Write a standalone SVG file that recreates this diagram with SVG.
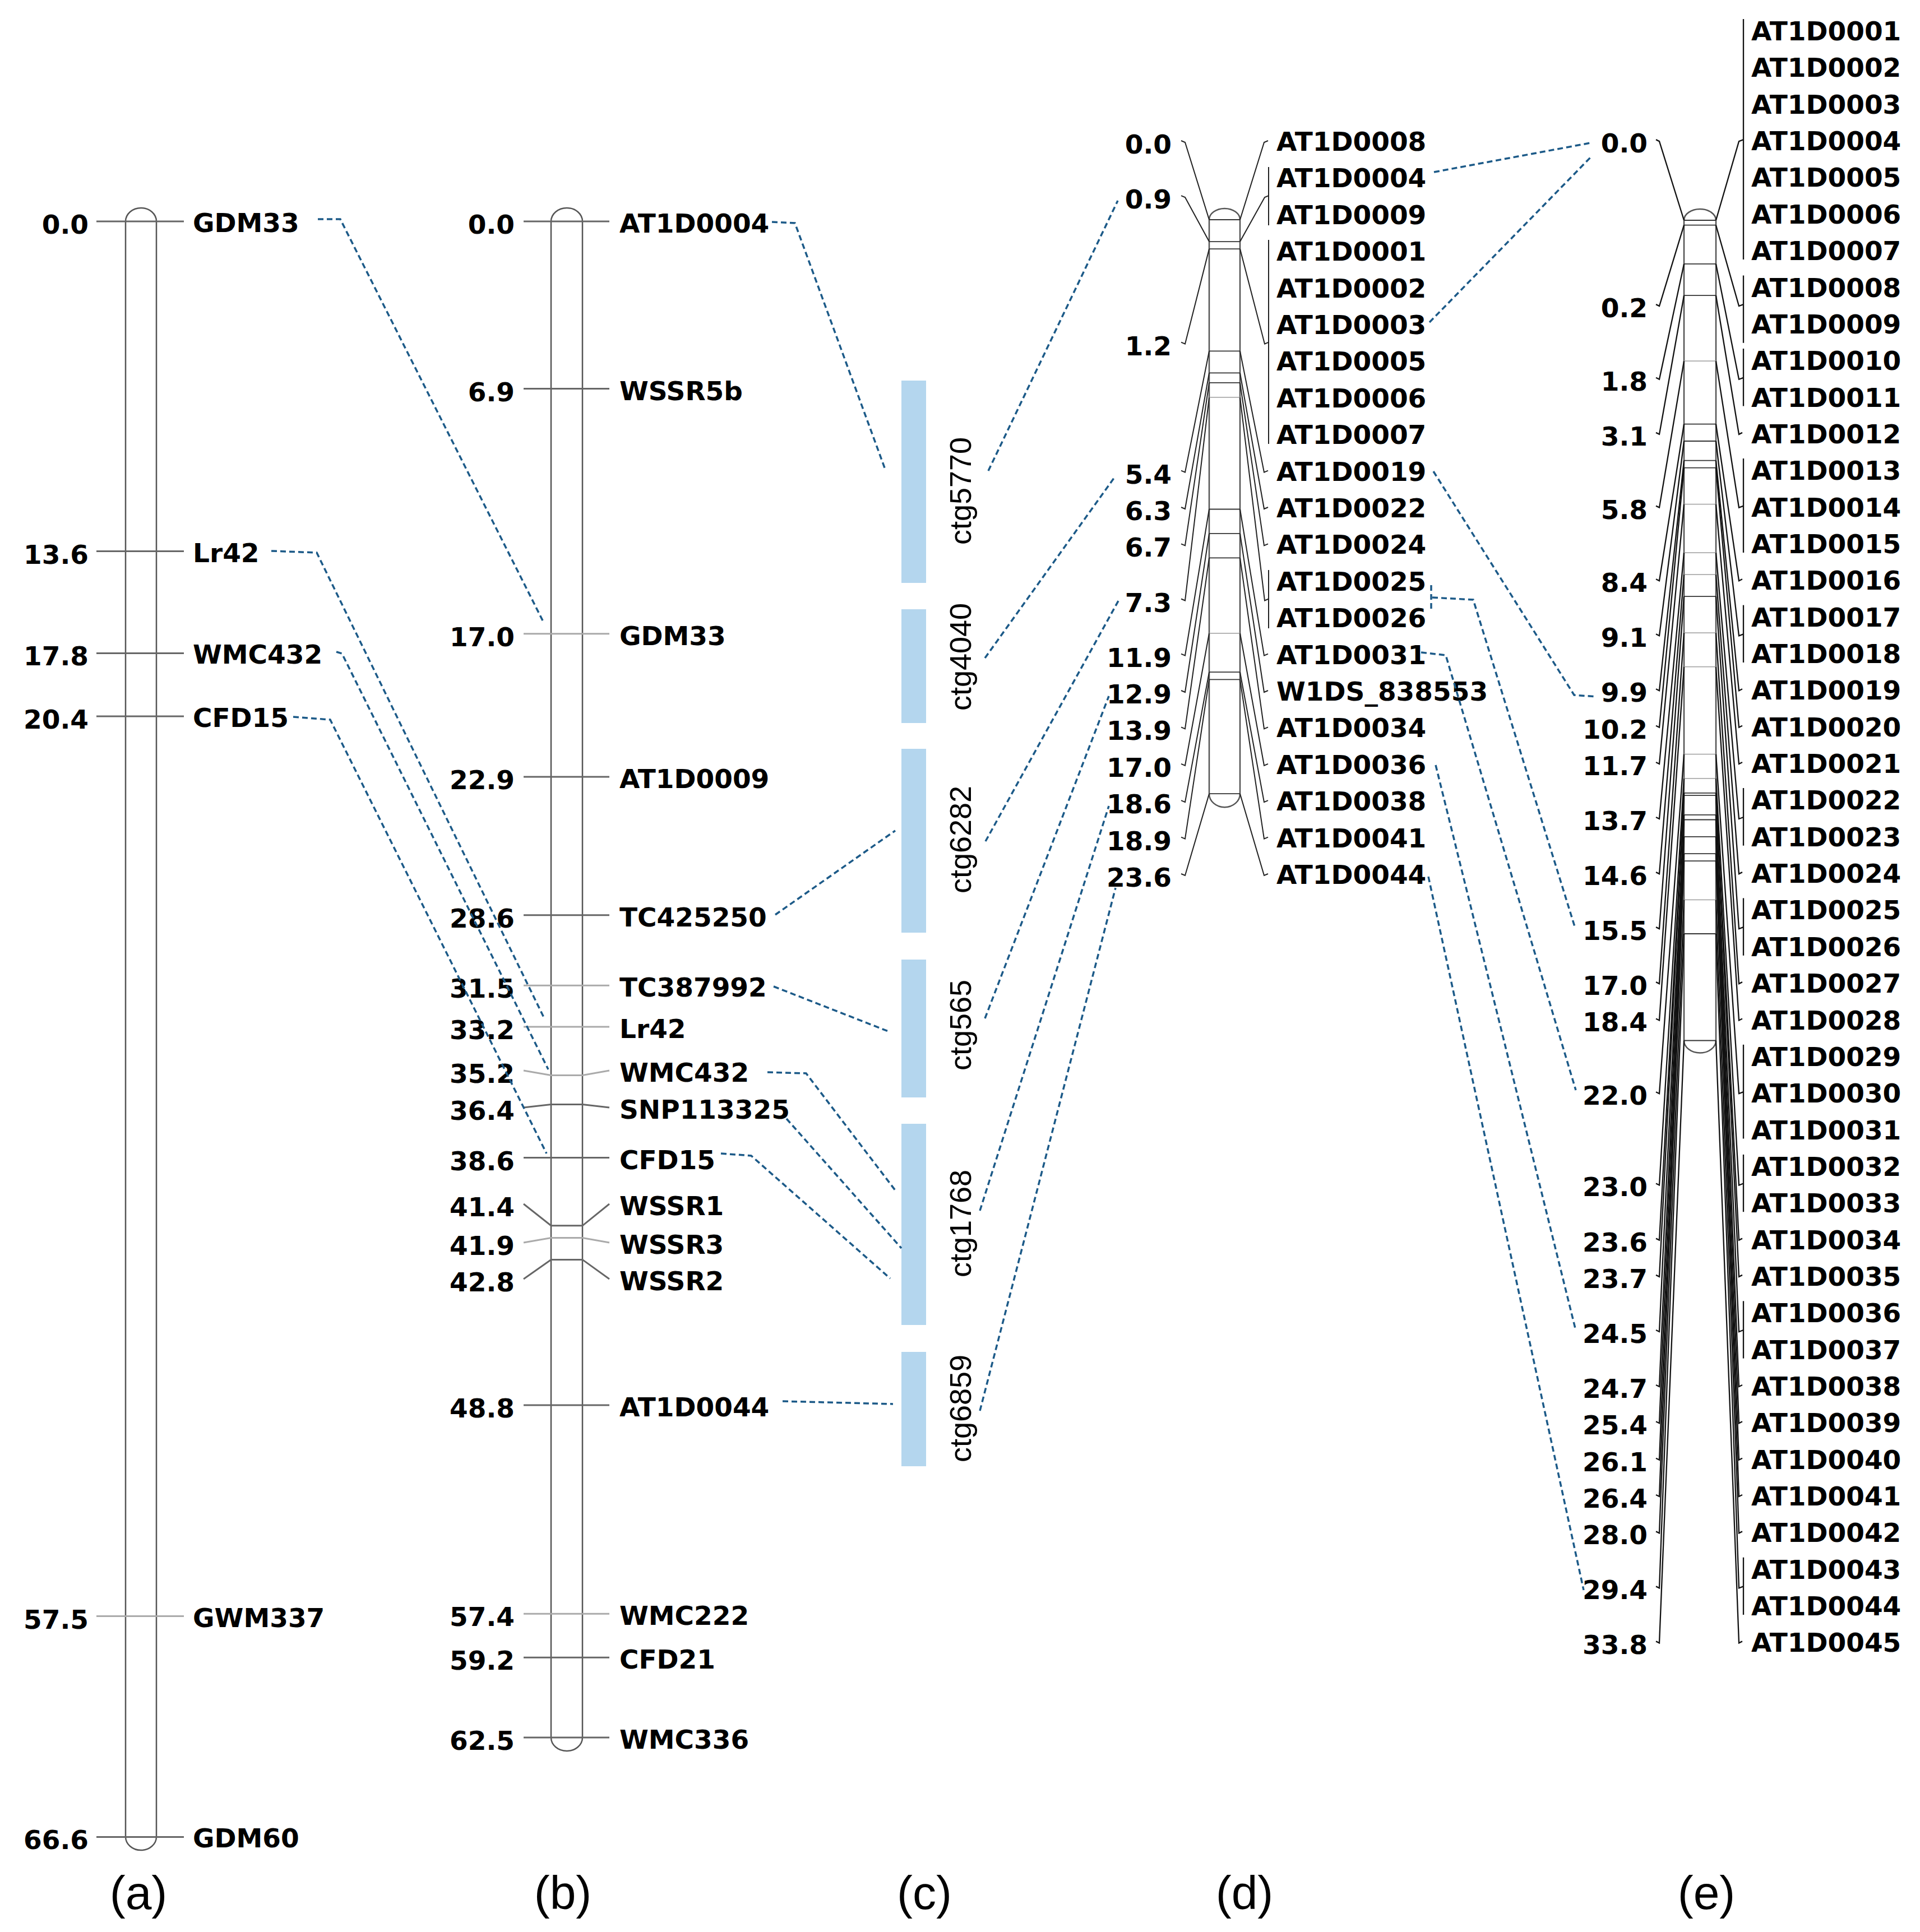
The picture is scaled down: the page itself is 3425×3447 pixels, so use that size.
<svg xmlns="http://www.w3.org/2000/svg" width="3425" height="3447" viewBox="0 0 3425 3447">
<style>
text { font-family: "DejaVu Sans", Verdana, sans-serif; font-weight: bold; font-size: 47px; fill: #000; }
.num { text-anchor: end; }
.lab { font-family: "Liberation Sans", Arial, sans-serif; font-weight: normal; font-size: 84px; text-anchor: middle; }
.ctg { font-family: "Liberation Sans", Arial, sans-serif; font-weight: normal; font-size: 54px; text-anchor: middle; }
.chr { fill: #fff; stroke: #555; stroke-width: 2.5; }
.tk { stroke: #666; stroke-width: 3; fill: none; }
.tl { stroke: #aaa; stroke-width: 3; fill: none; }
.ln { stroke: #222; stroke-width: 2; fill: none; }
.lne { stroke: #111; stroke-width: 2.3; fill: none; }
.bd { stroke: #333; stroke-width: 1.8; }
.bl { stroke: #aaa; stroke-width: 1.8; }
.cb { fill: #b4d6ee; }
.dash { stroke: #1c5a88; stroke-width: 3.5; fill: none; stroke-dasharray: 10 6; }
</style>
<rect width="3425" height="3447" fill="#fff"/>

<g id="chr-a">
<path class="chr" d="M224,395 A27.5,24 0 0 1 279,395 L279,3277 A27.5,24 0 0 1 224,3277 Z"/>
<line class="tk" x1="172" y1="395" x2="328" y2="395"/>
<line class="tk" x1="172" y1="983.6" x2="328" y2="983.6"/>
<line class="tk" x1="172" y1="1165.4" x2="328" y2="1165.4"/>
<line class="tk" x1="172" y1="1277.9" x2="328" y2="1277.9"/>
<line class="tl" x1="172" y1="2883.6" x2="328" y2="2883.6"/>
<line class="tk" x1="172" y1="3277.4" x2="328" y2="3277.4"/>
<text class="num" x="158" y="417">0.0</text><text x="344" y="414">GDM33</text>
<text class="num" x="158" y="1005.6">13.6</text><text x="344" y="1002.6">Lr42</text>
<text class="num" x="158" y="1187.4">17.8</text><text x="344" y="1184.4">WMC432</text>
<text class="num" x="158" y="1299.9">20.4</text><text x="344" y="1296.9">CFD15</text>
<text class="num" x="158" y="2905.6">57.5</text><text x="344" y="2902.6">GWM337</text>
<text class="num" x="158" y="3299.4">66.6</text><text x="344" y="3296.4">GDM60</text>
</g>

<g id="chr-b">
<path class="chr" d="M983,395 A28,24 0 0 1 1039,395 L1039,3100 A28,24 0 0 1 983,3100 Z"/>
<line class="tk" x1="934" y1="395" x2="1087" y2="395"/>
<line class="tk" x1="934" y1="693.6" x2="1087" y2="693.6"/>
<line class="tl" x1="934" y1="1130.8" x2="1087" y2="1130.8"/>
<line class="tk" x1="934" y1="1386.1" x2="1087" y2="1386.1"/>
<line class="tk" x1="934" y1="1632.8" x2="1087" y2="1632.8"/>
<line class="tl" x1="934" y1="1758.3" x2="1087" y2="1758.3"/>
<line class="tl" x1="934" y1="1831.9" x2="1087" y2="1831.9"/>
<polyline class="tl" points="934,1910 983,1918.5 1039,1918.5 1087,1910"/>
<polyline class="tk" points="934,1976 983,1970.4 1039,1970.4 1087,1976"/>
<line class="tk" x1="934" y1="2065.6" x2="1087" y2="2065.6"/>
<polyline class="tk" points="934,2148 983,2186.8 1039,2186.8 1087,2148"/>
<polyline class="tl" points="934,2217 983,2208.4 1039,2208.4 1087,2217"/>
<polyline class="tk" points="934,2282 983,2247.4 1039,2247.4 1087,2282"/>
<line class="tk" x1="934" y1="2507.1" x2="1087" y2="2507.1"/>
<line class="tl" x1="934" y1="2879.3" x2="1087" y2="2879.3"/>
<line class="tk" x1="934" y1="2957.2" x2="1087" y2="2957.2"/>
<line class="tk" x1="934" y1="3100" x2="1087" y2="3100"/>
<text class="num" x="918" y="417">0.0</text><text x="1105" y="415">AT1D0004</text>
<text class="num" x="918" y="715.6">6.9</text><text x="1105" y="713.6">WSSR5b</text>
<text class="num" x="918" y="1152.8">17.0</text><text x="1105" y="1150.8">GDM33</text>
<text class="num" x="918" y="1408.1">22.9</text><text x="1105" y="1406.1">AT1D0009</text>
<text class="num" x="918" y="1654.8">28.6</text><text x="1105" y="1652.8">TC425250</text>
<text class="num" x="918" y="1780.3">31.5</text><text x="1105" y="1778.3">TC387992</text>
<text class="num" x="918" y="1853.9">33.2</text><text x="1105" y="1851.9">Lr42</text>
<text class="num" x="918" y="1932">35.2</text><text x="1105" y="1930">WMC432</text>
<text class="num" x="918" y="1998">36.4</text><text x="1105" y="1996">SNP113325</text>
<text class="num" x="918" y="2087.6">38.6</text><text x="1105" y="2085.6">CFD15</text>
<text class="num" x="918" y="2170">41.4</text><text x="1105" y="2168">WSSR1</text>
<text class="num" x="918" y="2239">41.9</text><text x="1105" y="2237">WSSR3</text>
<text class="num" x="918" y="2304">42.8</text><text x="1105" y="2302">WSSR2</text>
<text class="num" x="918" y="2529">48.8</text><text x="1105" y="2527">AT1D0044</text>
<text class="num" x="918" y="2901">57.4</text><text x="1105" y="2899">WMC222</text>
<text class="num" x="918" y="2979">59.2</text><text x="1105" y="2977">CFD21</text>
<text class="num" x="918" y="3122">62.5</text><text x="1105" y="3120">WMC336</text>
</g>

<g id="ctg5770"><rect class="cb" x="1608" y="679" width="44" height="361"/><text class="ctg" transform="translate(1732,876) rotate(-90)">ctg5770</text></g>
<g id="ctg4040"><rect class="cb" x="1608" y="1087" width="44" height="203"/><text class="ctg" transform="translate(1732,1172) rotate(-90)">ctg4040</text></g>
<g id="ctg6282"><rect class="cb" x="1608" y="1336" width="44" height="328"/><text class="ctg" transform="translate(1732,1498) rotate(-90)">ctg6282</text></g>
<g id="ctg565"><rect class="cb" x="1608" y="1712" width="44" height="246"/><text class="ctg" transform="translate(1732,1829) rotate(-90)">ctg565</text></g>
<g id="ctg1768"><rect class="cb" x="1608" y="2005" width="44" height="359"/><text class="ctg" transform="translate(1732,2183) rotate(-90)">ctg1768</text></g>
<g id="ctg6859"><rect class="cb" x="1608" y="2412" width="44" height="204"/><text class="ctg" transform="translate(1732,2513) rotate(-90)">ctg6859</text></g>

<g id="chr-d">
<path class="chr" d="M2157,392 A27.5,20 0 0 1 2212,392 L2212,1416.2 A27.5,24 0 0 1 2157,1416.2 Z" stroke="#333" stroke-width="2"/>
<g class="bd">
<line x1="2157" y1="392" x2="2212" y2="392"/><line x1="2157" y1="431.1" x2="2212" y2="431.1"/><line x1="2157" y1="444.1" x2="2212" y2="444.1"/>
<line x1="2157" y1="626.4" x2="2212" y2="626.4"/><line x1="2157" y1="665.4" x2="2212" y2="665.4"/><line x1="2157" y1="682.8" x2="2212" y2="682.8"/>
<line class="bl" x1="2157" y1="708.8" x2="2212" y2="708.8"/><line x1="2157" y1="908.5" x2="2212" y2="908.5"/><line x1="2157" y1="951.9" x2="2212" y2="951.9"/>
<line x1="2157" y1="995.3" x2="2212" y2="995.3"/><line class="bl" x1="2157" y1="1129.8" x2="2212" y2="1129.8"/><line x1="2157" y1="1199.2" x2="2212" y2="1199.2"/>
<line x1="2157" y1="1212.3" x2="2212" y2="1212.3"/><line x1="2157" y1="1416.2" x2="2212" y2="1416.2"/>
</g>
<g class="ln">
<polyline points="2107,251 2114,254 2157,392"/>
<polyline points="2107,349.1 2114,352.1 2157,431.1"/>
<polyline points="2107,610.7 2114,613.7 2157,444.1"/>
<polyline points="2107,839.6 2114,842.6 2157,626.4"/>
<polyline points="2107,905 2114,908 2157,665.4"/>
<polyline points="2107,970.4 2114,973.4 2157,682.8"/>
<polyline points="2107,1068.5 2114,1071.5 2157,708.8"/>
<polyline points="2107,1166.6 2114,1169.6 2157,908.5"/>
<polyline points="2107,1232 2114,1235 2157,951.9"/>
<polyline points="2107,1297.4 2114,1300.4 2157,995.3"/>
<polyline points="2107,1362.8 2114,1365.8 2157,1129.8"/>
<polyline points="2107,1428.2 2114,1431.2 2157,1199.2"/>
<polyline points="2107,1493.6 2114,1496.6 2157,1212.3"/>
<polyline points="2107,1559 2114,1562 2157,1416.2"/>
<polyline points="2212,392 2255,254 2262,251"/>
<polyline points="2212,431.1 2256,352.1 2263,349.1"/>
<polyline points="2212,444.1 2256,613.7 2263,610.7"/>
<polyline points="2212,626.4 2255,842.6 2262,839.6"/>
<polyline points="2212,665.4 2255,908 2262,905"/>
<polyline points="2212,682.8 2255,973.4 2262,970.4"/>
<polyline points="2212,708.8 2256,1071.5 2263,1068.5"/>
<polyline points="2212,908.5 2255,1169.6 2262,1166.6"/>
<polyline points="2212,951.9 2255,1235 2262,1232"/>
<polyline points="2212,995.3 2255,1300.4 2262,1297.4"/>
<polyline points="2212,1129.8 2255,1365.8 2262,1362.8"/>
<polyline points="2212,1199.2 2255,1431.2 2262,1428.2"/>
<polyline points="2212,1212.3 2255,1496.6 2262,1493.6"/>
<polyline points="2212,1416.2 2255,1562 2262,1559"/>
<line x1="2263" y1="298" x2="2263" y2="402"/>
<line x1="2263" y1="428" x2="2263" y2="792"/>
<line x1="2263" y1="1017" x2="2263" y2="1121"/>
</g>
<text class="num" x="2090" y="274">0.0</text>
<text class="num" x="2090" y="372.1">0.9</text>
<text class="num" x="2090" y="633.7">1.2</text>
<text class="num" x="2090" y="862.6">5.4</text>
<text class="num" x="2090" y="928">6.3</text>
<text class="num" x="2090" y="993.4">6.7</text>
<text class="num" x="2090" y="1091.5">7.3</text>
<text class="num" x="2090" y="1189.6">11.9</text>
<text class="num" x="2090" y="1255">12.9</text>
<text class="num" x="2090" y="1320.4">13.9</text>
<text class="num" x="2090" y="1385.8">17.0</text>
<text class="num" x="2090" y="1451.2">18.6</text>
<text class="num" x="2090" y="1516.6">18.9</text>
<text class="num" x="2090" y="1582">23.6</text>
<text x="2277" y="269">AT1D0008</text>
<text x="2277" y="334.4">AT1D0004</text>
<text x="2277" y="399.8">AT1D0009</text>
<text x="2277" y="465.2">AT1D0001</text>
<text x="2277" y="530.6">AT1D0002</text>
<text x="2277" y="596">AT1D0003</text>
<text x="2277" y="661.4">AT1D0005</text>
<text x="2277" y="726.8">AT1D0006</text>
<text x="2277" y="792.2">AT1D0007</text>
<text x="2277" y="857.6">AT1D0019</text>
<text x="2277" y="923">AT1D0022</text>
<text x="2277" y="988.4">AT1D0024</text>
<text x="2277" y="1053.8">AT1D0025</text>
<text x="2277" y="1119.2">AT1D0026</text>
<text x="2277" y="1184.6">AT1D0031</text>
<text x="2277" y="1250">W1DS_838553</text>
<text x="2277" y="1315.4">AT1D0034</text>
<text x="2277" y="1380.8">AT1D0036</text>
<text x="2277" y="1446.2">AT1D0038</text>
<text x="2277" y="1511.6">AT1D0041</text>
<text x="2277" y="1577">AT1D0044</text>
</g>

<g id="chr-e">
<path class="chr" d="M3004,393 A28.5,20 0 0 1 3061,393 L3061,1856.5 A28.5,22 0 0 1 3004,1856.5 Z" stroke="#333" stroke-width="2"/>
<g class="bd">
<line x1="3004" y1="393" x2="3061" y2="393"/><line x1="3004" y1="401.7" x2="3061" y2="401.7"/><line x1="3004" y1="470.9" x2="3061" y2="470.9"/>
<line x1="3004" y1="527.2" x2="3061" y2="527.2"/><line class="bl" x1="3004" y1="644.1" x2="3061" y2="644.1"/><line x1="3004" y1="756.7" x2="3061" y2="756.7"/>
<line x1="3004" y1="787" x2="3061" y2="787"/><line x1="3004" y1="821.7" x2="3061" y2="821.7"/><line x1="3004" y1="834.7" x2="3061" y2="834.7"/>
<line class="bl" x1="3004" y1="899.6" x2="3061" y2="899.6"/><line class="bl" x1="3004" y1="986.2" x2="3061" y2="986.2"/><line class="bl" x1="3004" y1="1025.2" x2="3061" y2="1025.2"/>
<line x1="3004" y1="1064.2" x2="3061" y2="1064.2"/><line class="bl" x1="3004" y1="1129.1" x2="3061" y2="1129.1"/><line class="bl" x1="3004" y1="1189.7" x2="3061" y2="1189.7"/>
<line class="bl" x1="3004" y1="1345.6" x2="3061" y2="1345.6"/><line class="bl" x1="3004" y1="1388.9" x2="3061" y2="1388.9"/><line x1="3004" y1="1414.9" x2="3061" y2="1414.9"/>
<line x1="3004" y1="1419.2" x2="3061" y2="1419.2"/><line x1="3004" y1="1453.9" x2="3061" y2="1453.9"/><line x1="3004" y1="1462.5" x2="3061" y2="1462.5"/>
<line x1="3004" y1="1492.8" x2="3061" y2="1492.8"/><line x1="3004" y1="1523.1" x2="3061" y2="1523.1"/><line x1="3004" y1="1536.1" x2="3061" y2="1536.1"/>
<line class="bl" x1="3004" y1="1605.4" x2="3061" y2="1605.4"/><line x1="3004" y1="1666" x2="3061" y2="1666"/><line x1="3004" y1="1856.5" x2="3061" y2="1856.5"/>
</g>
<g class="lne">
<polyline points="2954,249.1 2960,252.1 3004,393"/>
<polyline points="2954,543.1 2960,546.1 3004,401.7"/>
<polyline points="2954,673.8 2960,676.8 3004,470.9"/>
<polyline points="2954,771.9 2960,774.9 3004,527.2"/>
<polyline points="2954,902.6 2960,905.6 3004,644.1"/>
<polyline points="2954,1033.3 2960,1036.3 3004,756.7"/>
<polyline points="2954,1131.3 2960,1134.3 3004,787"/>
<polyline points="2954,1229.3 2960,1232.3 3004,821.7"/>
<polyline points="2954,1294.7 2960,1297.7 3004,834.7"/>
<polyline points="2954,1360 2960,1363 3004,899.6"/>
<polyline points="2954,1458 2960,1461 3004,986.2"/>
<polyline points="2954,1556.1 2960,1559.1 3004,1025.2"/>
<polyline points="2954,1654.1 2960,1657.1 3004,1064.2"/>
<polyline points="2954,1752.1 2960,1755.1 3004,1129.1"/>
<polyline points="2954,1817.5 2960,1820.5 3004,1189.7"/>
<polyline points="2954,1948.2 2960,1951.2 3004,1345.6"/>
<polyline points="2954,2111.5 2960,2114.5 3004,1388.9"/>
<polyline points="2954,2209.6 2960,2212.6 3004,1414.9"/>
<polyline points="2954,2274.9 2960,2277.9 3004,1419.2"/>
<polyline points="2954,2373 2960,2376 3004,1453.9"/>
<polyline points="2954,2471 2960,2474 3004,1462.5"/>
<polyline points="2954,2536.3 2960,2539.3 3004,1492.8"/>
<polyline points="2954,2601.7 2960,2604.7 3004,1523.1"/>
<polyline points="2954,2667 2960,2670 3004,1536.1"/>
<polyline points="2954,2732.4 2960,2735.4 3004,1605.4"/>
<polyline points="2954,2830.4 2960,2833.4 3004,1666"/>
<polyline points="2954,2928.4 2960,2931.4 3004,1856.5"/>
<polyline points="3061,393 3102,252.1 3110,249.1"/>
<polyline points="3061,401.7 3102,546.1 3110,543.1"/>
<polyline points="3061,470.9 3102,676.8 3110,673.8"/>
<polyline points="3061,527.2 3102,774.9 3108,771.9"/>
<polyline points="3061,644.1 3102,905.6 3110,902.6"/>
<polyline points="3061,756.7 3102,1036.3 3108,1033.3"/>
<polyline points="3061,787 3102,1134.3 3110,1131.3"/>
<polyline points="3061,821.7 3102,1232.3 3108,1229.3"/>
<polyline points="3061,834.7 3102,1297.7 3108,1294.7"/>
<polyline points="3061,899.6 3102,1363 3108,1360"/>
<polyline points="3061,986.2 3102,1461 3110,1458"/>
<polyline points="3061,1025.2 3102,1559.1 3108,1556.1"/>
<polyline points="3061,1064.2 3102,1657.1 3110,1654.1"/>
<polyline points="3061,1129.1 3102,1755.1 3108,1752.1"/>
<polyline points="3061,1189.7 3102,1820.5 3108,1817.5"/>
<polyline points="3061,1345.6 3102,1951.2 3110,1948.2"/>
<polyline points="3061,1388.9 3102,2114.5 3110,2111.5"/>
<polyline points="3061,1414.9 3102,2212.6 3108,2209.6"/>
<polyline points="3061,1419.2 3102,2277.9 3108,2274.9"/>
<polyline points="3061,1453.9 3102,2376 3110,2373"/>
<polyline points="3061,1462.5 3102,2474 3108,2471"/>
<polyline points="3061,1492.8 3102,2539.3 3108,2536.3"/>
<polyline points="3061,1523.1 3102,2604.7 3108,2601.7"/>
<polyline points="3061,1536.1 3102,2670 3108,2667"/>
<polyline points="3061,1605.4 3102,2735.4 3108,2732.4"/>
<polyline points="3061,1666 3102,2833.4 3110,2830.4"/>
<polyline points="3061,1856.5 3102,2931.4 3108,2928.4"/>
<line x1="3110" y1="34" x2="3110" y2="463"/>
<line x1="3110" y1="491.5" x2="3110" y2="611.8"/>
<line x1="3110" y1="622" x2="3110" y2="724.5"/>
<line x1="3110" y1="818" x2="3110" y2="986"/>
<line x1="3110" y1="1079.6" x2="3110" y2="1182"/>
<line x1="3110" y1="1406" x2="3110" y2="1508.7"/>
<line x1="3110" y1="1602.4" x2="3110" y2="1704.8"/>
<line x1="3110" y1="1863.8" x2="3110" y2="2031.5"/>
<line x1="3110" y1="2059.9" x2="3110" y2="2162.2"/>
<line x1="3110" y1="2321.3" x2="3110" y2="2423.6"/>
<line x1="3110" y1="2778.7" x2="3110" y2="2881"/>
</g>
<text class="num" x="2939" y="272">0.0</text>
<text class="num" x="2939" y="566">0.2</text>
<text class="num" x="2939" y="697">1.8</text>
<text class="num" x="2939" y="795">3.1</text>
<text class="num" x="2939" y="926">5.8</text>
<text class="num" x="2939" y="1056">8.4</text>
<text class="num" x="2939" y="1154">9.1</text>
<text class="num" x="2939" y="1252">9.9</text>
<text class="num" x="2939" y="1318">10.2</text>
<text class="num" x="2939" y="1383">11.7</text>
<text class="num" x="2939" y="1481">13.7</text>
<text class="num" x="2939" y="1579">14.6</text>
<text class="num" x="2939" y="1677">15.5</text>
<text class="num" x="2939" y="1775">17.0</text>
<text class="num" x="2939" y="1840">18.4</text>
<text class="num" x="2939" y="1971">22.0</text>
<text class="num" x="2939" y="2134">23.0</text>
<text class="num" x="2939" y="2233">23.6</text>
<text class="num" x="2939" y="2298">23.7</text>
<text class="num" x="2939" y="2396">24.5</text>
<text class="num" x="2939" y="2494">24.7</text>
<text class="num" x="2939" y="2559">25.4</text>
<text class="num" x="2939" y="2625">26.1</text>
<text class="num" x="2939" y="2690">26.4</text>
<text class="num" x="2939" y="2755">28.0</text>
<text class="num" x="2939" y="2853">29.4</text>
<text class="num" x="2939" y="2951">33.8</text>
<text x="3124" y="72">AT1D0001</text>
<text x="3124" y="137.4">AT1D0002</text>
<text x="3124" y="202.7">AT1D0003</text>
<text x="3124" y="268.1">AT1D0004</text>
<text x="3124" y="333.4">AT1D0005</text>
<text x="3124" y="398.8">AT1D0006</text>
<text x="3124" y="464.1">AT1D0007</text>
<text x="3124" y="529.5">AT1D0008</text>
<text x="3124" y="594.8">AT1D0009</text>
<text x="3124" y="660.2">AT1D0010</text>
<text x="3124" y="725.5">AT1D0011</text>
<text x="3124" y="790.9">AT1D0012</text>
<text x="3124" y="856.2">AT1D0013</text>
<text x="3124" y="921.6">AT1D0014</text>
<text x="3124" y="986.9">AT1D0015</text>
<text x="3124" y="1052.3">AT1D0016</text>
<text x="3124" y="1117.6">AT1D0017</text>
<text x="3124" y="1183">AT1D0018</text>
<text x="3124" y="1248.3">AT1D0019</text>
<text x="3124" y="1313.7">AT1D0020</text>
<text x="3124" y="1379">AT1D0021</text>
<text x="3124" y="1444.4">AT1D0022</text>
<text x="3124" y="1509.7">AT1D0023</text>
<text x="3124" y="1575.1">AT1D0024</text>
<text x="3124" y="1640.4">AT1D0025</text>
<text x="3124" y="1705.8">AT1D0026</text>
<text x="3124" y="1771.1">AT1D0027</text>
<text x="3124" y="1836.5">AT1D0028</text>
<text x="3124" y="1901.8">AT1D0029</text>
<text x="3124" y="1967.2">AT1D0030</text>
<text x="3124" y="2032.5">AT1D0031</text>
<text x="3124" y="2097.9">AT1D0032</text>
<text x="3124" y="2163.2">AT1D0033</text>
<text x="3124" y="2228.6">AT1D0034</text>
<text x="3124" y="2293.9">AT1D0035</text>
<text x="3124" y="2359.3">AT1D0036</text>
<text x="3124" y="2424.6">AT1D0037</text>
<text x="3124" y="2490">AT1D0038</text>
<text x="3124" y="2555.3">AT1D0039</text>
<text x="3124" y="2620.7">AT1D0040</text>
<text x="3124" y="2686">AT1D0041</text>
<text x="3124" y="2751.4">AT1D0042</text>
<text x="3124" y="2816.7">AT1D0043</text>
<text x="3124" y="2882.1">AT1D0044</text>
<text x="3124" y="2947.4">AT1D0045</text>
</g>

<g id="connectors" class="dash">
<path d="M567,391 L607,391 L970,1111"/>
<path d="M484,983 L565,986 L970,1815"/>
<path d="M600,1163 L610,1166 L978,1908"/>
<path d="M523,1279 L589,1284 L975,2058"/>
<path d="M1377,396 L1418,398 L1580,840"/>
<path d="M1383,1632 L1597,1482"/>
<path d="M1380,1760 L1587,1841"/>
<path d="M1369,1913 L1438,1915 L1598,2125"/>
<path d="M1403,1996 L1608,2227"/>
<path d="M1286,2058 L1340,2062 L1588,2281"/>
<path d="M1396,2500 L1593,2505"/>
<path d="M1763,840 L1994,358"/>
<path d="M1757,1174 L1990,849"/>
<path d="M1758,1501 L1995,1072"/>
<path d="M1757,1817 L1978,1242"/>
<path d="M1748,2160 L1978,1438"/>
<path d="M1748,2517 L1990,1584"/>
<path d="M2558,307 L2837,255"/>
<path d="M2550,575 L2838,280"/>
<path d="M2557,841 L2808,1240 L2848,1243"/>
<path d="M2553,1044 L2553,1088 M2555,1066 L2628,1070 L2809,1653"/>
<path d="M2535,1164 L2579,1169 L2811,1945"/>
<path d="M2561,1365 L2811,2374"/>
<path d="M2548,1564 L2825,2837"/>
</g>

<g id="panel-labels">
<text class="lab" x="247" y="3406">(a)</text>
<text class="lab" x="1004" y="3406">(b)</text>
<text class="lab" x="1649" y="3406">(c)</text>
<text class="lab" x="2220" y="3406">(d)</text>
<text class="lab" x="3044" y="3406">(e)</text>
</g>
</svg>
